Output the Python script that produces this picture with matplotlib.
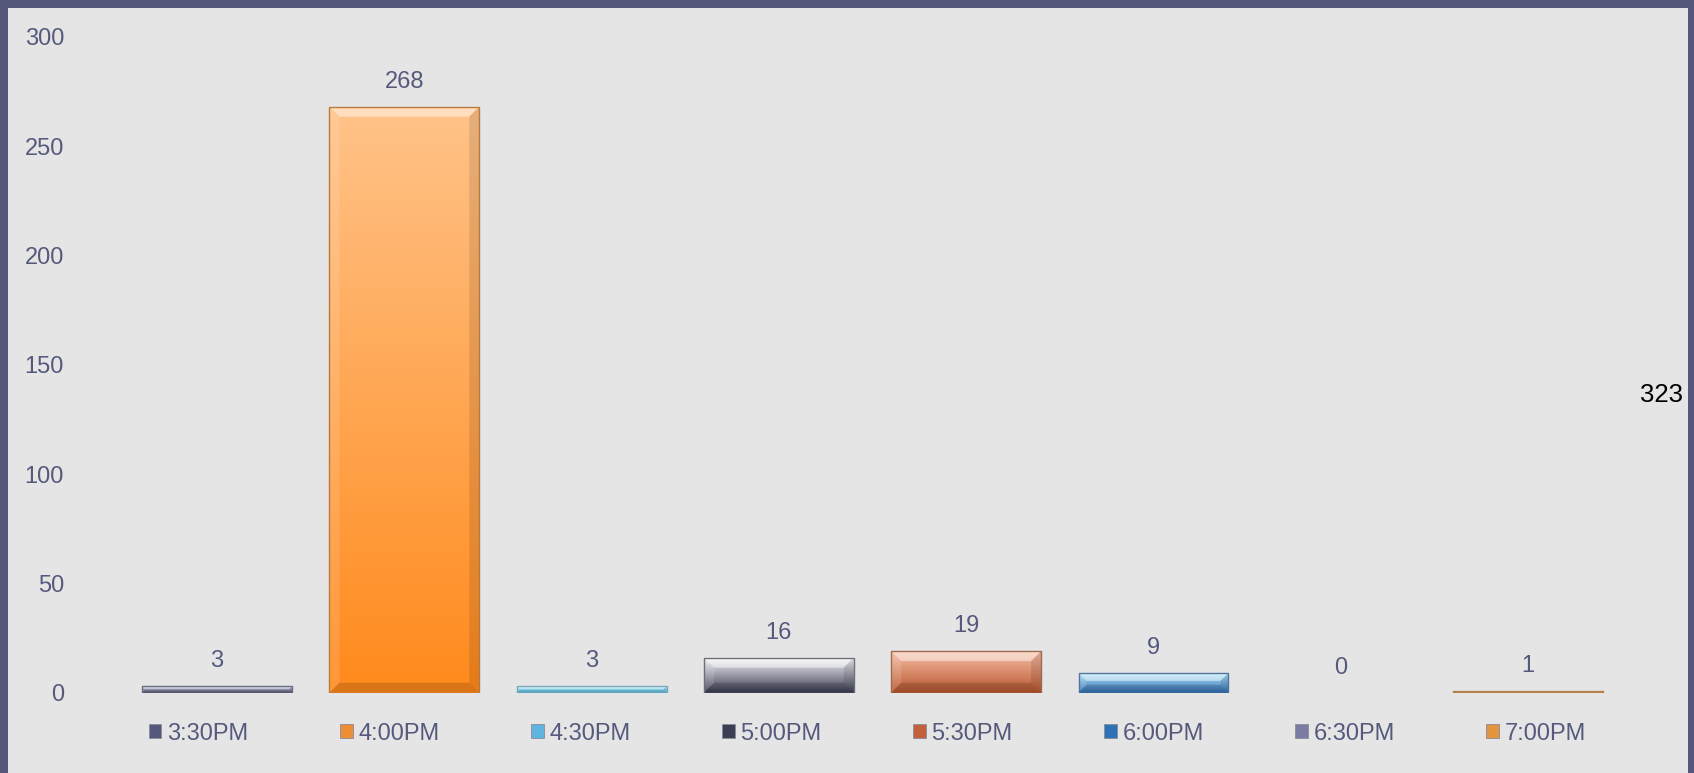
import numpy as np
import matplotlib
matplotlib.use("Agg")
import matplotlib.pyplot as plt
from matplotlib.patches import Rectangle, Patch, Polygon
from matplotlib.colors import to_rgb

# ---- data ----
categories = ["3:30PM", "4:00PM", "4:30PM", "5:00PM", "5:30PM", "6:00PM", "6:30PM", "7:00PM"]
values = [3, 268, 3, 16, 19, 9, 0, 1]
total_label = "323"
y_ticks = [0, 50, 100, 150, 200, 250, 300]

# ---- style ----
top_colors = ["#d4d7ea", "#ffc389", "#b8ecf8", "#f4f4f8", "#f8bfa6", "#b5e6fa", "#c4c6de", "#f0c088"]
bot_colors = ["#50536f", "#ff8a1c", "#5cb6da", "#3a3c52", "#b8562e", "#2f6fb4", "#6a6c90", "#d48a3c"]
edge_colors = ["#6a6c80", "#b8793a", "#7aa8ba", "#6e6e78", "#a06a50", "#4e74a0", "#8a8ca8", "#b08050"]
legend_colors = ["#55587a", "#ee8e34", "#5eb4dc", "#3c3e54", "#c2613c", "#2e72b6", "#7a7ca4", "#e4963e"]

txt_color = "#555a7d"
bg = "#e5e5e5"
border = "#535679"
fs = 17.0

plt.rcParams["font.family"] = ["Liberation Sans", "DejaVu Sans"]

W, H = 1694, 773
fig = plt.figure(figsize=(W / 100, H / 100), dpi=100)
fig.patch.set_facecolor(border)
fig.patches.append(Rectangle((8 / W, 0), (1688 - 8) / W, (H - 8) / H,
                             transform=fig.transFigure, facecolor=bg,
                             edgecolor="none", zorder=-10))

ax_left, ax_right = 123.4, 1621.7
ax_bot, ax_top = 692.7, 36.7
ax = fig.add_axes([ax_left / W, (H - ax_bot) / H, (ax_right - ax_left) / W, (ax_bot - ax_top) / H])
ax.set_facecolor("none")
ax.set_zorder(5)

x = np.arange(len(categories))
bars = ax.bar(x, values, width=0.8, color="none", linewidth=1.0, zorder=4)

# pixel -> data conversion for the bevel size
px_x = (len(categories)) / (ax_right - ax_left)
px_y = 300.0 / (ax_bot - ax_top)
bevel_px = 10

for i, b in enumerate(bars):
    b.set_edgecolor(edge_colors[i])
    h = b.get_height()
    if h <= 0:
        b.set_visible(False)
        continue
    x0, w = b.get_x(), b.get_width()
    c1 = np.array(to_rgb(top_colors[i]))
    c2 = np.array(to_rgb(bot_colors[i]))
    t = np.linspace(0, 1, 256)[:, None]
    grad = (c1 * (1 - t) + c2 * t)[:, None, :]
    im = ax.imshow(grad, extent=[x0, x0 + w, 0, h],
                   aspect="auto", origin="upper", zorder=2, interpolation="bilinear")
    im.set_clip_path(b)
    # bevel: light top edge, dark bottom edge
    by = min(bevel_px * px_y, h * 0.4)
    bx = by / px_y * px_x
    top = Polygon([[x0, h], [x0 + w, h], [x0 + w - bx, h - by], [x0 + bx, h - by]],
                  closed=True, facecolor="white", alpha=0.45, edgecolor="none", zorder=3)
    bot = Polygon([[x0, 0], [x0 + w, 0], [x0 + w - bx, by], [x0 + bx, by]],
                  closed=True, facecolor="black", alpha=0.15, edgecolor="none", zorder=3)
    left = Polygon([[x0, 0], [x0, h], [x0 + bx, h - by], [x0 + bx, by]],
                   closed=True, facecolor="white", alpha=0.12, edgecolor="none", zorder=3)
    right = Polygon([[x0 + w, 0], [x0 + w, h], [x0 + w - bx, h - by], [x0 + w - bx, by]],
                    closed=True, facecolor="black", alpha=0.10, edgecolor="none", zorder=3)
    for p in (top, bot, left, right):
        ax.add_patch(p)

for i, v in enumerate(values):
    ax.annotate(str(v), (x[i], v), xytext=(0, 18.0), textcoords="offset points",
                ha="center", va="center", fontsize=fs, color=txt_color)

ax.set_xlim(-0.5, len(categories) - 0.5)
ax.set_ylim(0, 300)
ax.set_yticks(y_ticks)
ax.set_yticklabels([str(v) for v in y_ticks])
ax.tick_params(axis="y", length=0, pad=42.8, labelsize=fs, labelcolor=txt_color)
ax.set_xticks([])
for s in ax.spines.values():
    s.set_visible(False)

handles = [Patch(facecolor=legend_colors[i], edgecolor="#8a8a9a", linewidth=0.6)
           for i in range(len(categories))]
fig.legend(handles, categories, loc="center left", bbox_to_anchor=(148.5 / W, (H - 733.5) / H),
           bbox_transform=fig.transFigure, ncol=8, frameon=False, fontsize=fs,
           labelcolor=txt_color, handlelength=0.55, handleheight=0.55,
           handletextpad=0.24, columnspacing=3.86, borderpad=0, borderaxespad=0)

fig.text(1683 / W, (H - 395) / H, total_label, ha="right", va="center",
         fontsize=18.5, color="black")

fig.savefig("out.png", dpi=100, facecolor=fig.get_facecolor())
